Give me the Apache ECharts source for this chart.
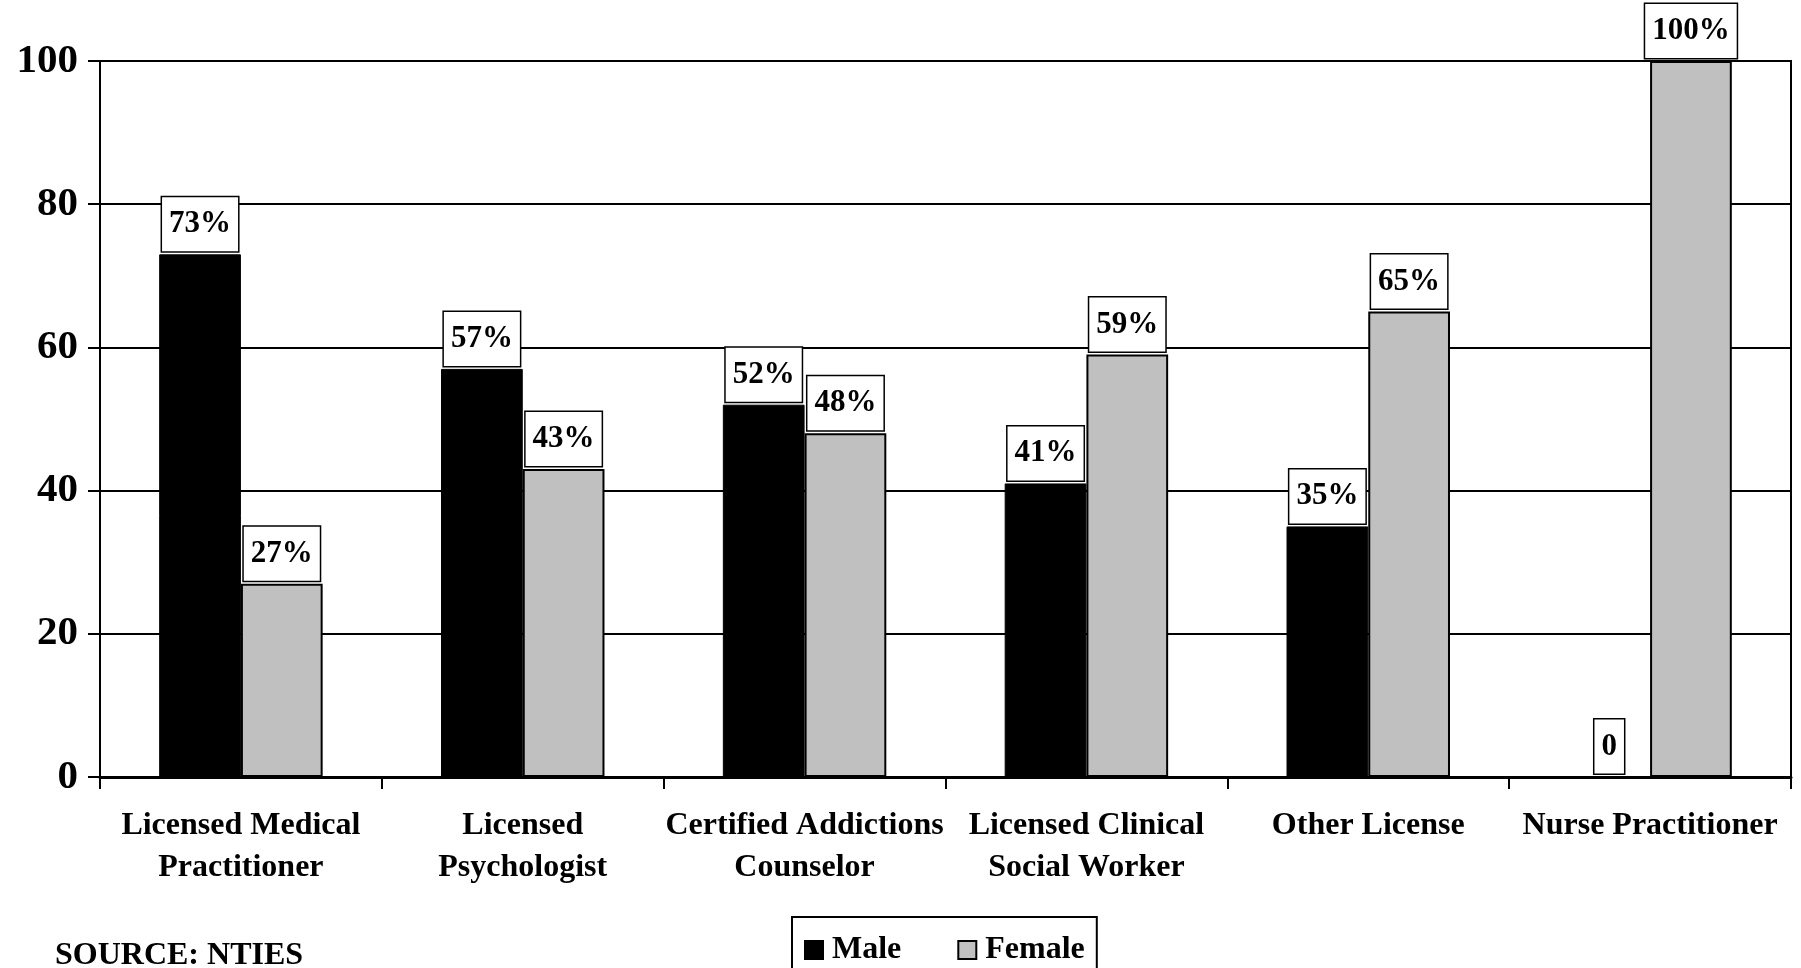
<!DOCTYPE html>
<html>
<head>
<meta charset="utf-8">
<title>License by gender</title>
<script src="https://cdn.jsdelivr.net/npm/echarts@6/dist/echarts.min.js"></script>
<style>
  html, body { margin: 0; padding: 0; background: #fff; }
  #chart { width: 1801px; height: 968px; }
</style>
</head>
<body>
<div id="chart"></div>
<script>
  // data
  var categories = [
    'Licensed Medical\nPractitioner',
    'Licensed\nPsychologist',
    'Certified Addictions\nCounselor',
    'Licensed Clinical\nSocial Worker',
    'Other License',
    'Nurse Practitioner'
  ];
  var male = [73, 57, 52, 41, 35, 0];
  var female = [27, 43, 48, 59, 65, 100];
  var yTicks = [0, 20, 40, 60, 80, 100];

  var font = "'Liberation Serif', 'Times New Roman', serif";

  // boxed label above each bar
  var boxLabel = {
    show: true,
    position: 'top',
    distance: 3,
    fontFamily: font,
    fontWeight: 'bold',
    fontSize: 31,
    lineHeight: 30,
    color: '#000',
    backgroundColor: '#fff',
    borderColor: '#000',
    borderWidth: 1.5,
    padding: [12, 7],
    formatter: function (p) {
      return p.value === 0 ? '0' : p.value + '%';
    }
  };

  var myChart = echarts.init(document.getElementById('chart'));
  var option = {
    animation: false,
    title: {
      text: 'SOURCE: NTIES',
      left: 55,
      top: 940,
      padding: 0,
      textStyle: { fontFamily: font, fontWeight: 'bold', fontSize: 32, color: '#000' }
    },
    legend: {
      data: ['Male', 'Female'],
      left: 792,
      top: 917,
      padding: [17, 12, 20, 12],
      itemGap: 56,
      itemWidth: 18,
      itemHeight: 18,
      icon: 'rect',
      borderColor: '#000',
      borderWidth: 2,
      textStyle: { fontFamily: font, fontWeight: 'bold', fontSize: 32, color: '#000', padding: [0, 0, 0, 4] }
    },
    grid: {
      left: 100,
      right: 10,
      top: 61,
      bottom: 191,
      show: true,
      borderColor: '#000',
      borderWidth: 2,
      containLabel: false
    },
    xAxis: {
      type: 'category',
      data: categories,
      axisLine: { lineStyle: { color: '#000', width: 3 } },
      axisTick: { show: true, length: 12, lineStyle: { color: '#000', width: 2 } },
      axisLabel: {
        interval: 0,
        margin: 28,
        fontFamily: font,
        fontWeight: 'bold',
        fontSize: 32,
        lineHeight: 42,
        color: '#000'
      }
    },
    yAxis: {
      type: 'value',
      min: yTicks[0],
      max: yTicks[yTicks.length - 1],
      interval: yTicks[1] - yTicks[0],
      axisLine: { show: true, lineStyle: { color: '#000', width: 2 } },
      axisTick: { show: true, length: 12, lineStyle: { color: '#000', width: 2 } },
      splitLine: { show: true, lineStyle: { color: '#000', width: 2 } },
      axisLabel: {
        margin: 22,
        fontFamily: font,
        fontWeight: 'bold',
        fontSize: 41,
        color: '#000'
      }
    },
    series: [
      {
        name: 'Male',
        type: 'bar',
        data: male,
        barGap: '0%',
        barCategoryGap: '42%',
        itemStyle: { color: '#000', borderColor: '#000', borderWidth: 1 },
        label: boxLabel
      },
      {
        name: 'Female',
        type: 'bar',
        data: female,
        itemStyle: { color: '#c0c0c0', borderColor: '#000', borderWidth: 2 },
        label: boxLabel
      }
    ]
  };
  myChart.setOption(option);
</script>
</body>
</html>
